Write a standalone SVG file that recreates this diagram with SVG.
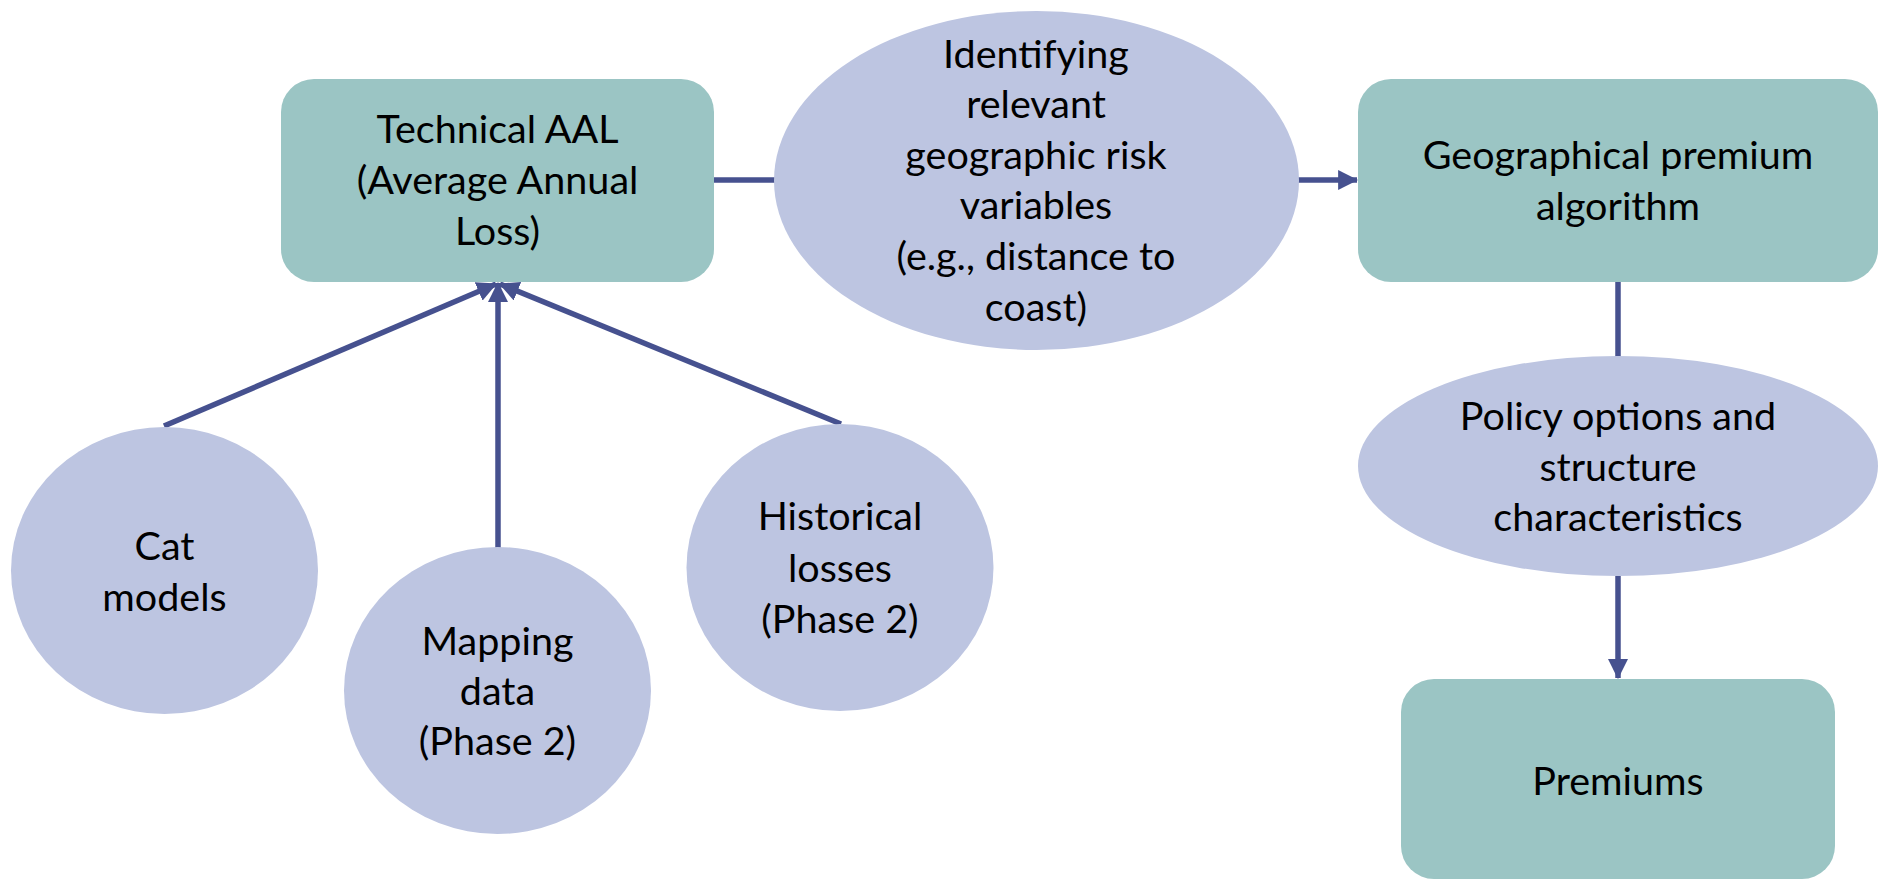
<svg xmlns="http://www.w3.org/2000/svg" width="1885" height="880" viewBox="0 0 1885 880">
  <style>
    .box { fill: #9BC5C4; }
    .ell { fill: #BDC5E1; }
    .lbl { font-family: Lato, "Noto Sans", sans-serif; font-size: 39.5px; fill: #000; text-anchor: middle; }
    .conn { stroke: #46518F; stroke-width: 5.5; fill: none; }
  </style>
  <defs>
    <marker id="arr" markerUnits="userSpaceOnUse" markerWidth="20" markerHeight="20" viewBox="0 0 18 18" refX="17" refY="9" orient="auto">
      <path d="M0,0 L18,9 L0,18 z" fill="#46518F"/>
    </marker>
  </defs>
  <rect width="1885" height="880" fill="#fff"/>

  <g id="connectors">
    <line class="conn" x1="714" y1="180" x2="776" y2="180"/>
    <line class="conn" x1="1298" y1="180" x2="1357" y2="180" marker-end="url(#arr)"/>
    <line class="conn" x1="164" y1="426" x2="496" y2="284" marker-end="url(#arr)"/>
    <line class="conn" x1="498" y1="548" x2="498" y2="283" marker-end="url(#arr)"/>
    <line class="conn" x1="841" y1="424" x2="500" y2="284" marker-end="url(#arr)"/>
    <line class="conn" x1="1618" y1="282" x2="1618" y2="357"/>
    <line class="conn" x1="1618" y1="576" x2="1618" y2="678" marker-end="url(#arr)"/>
  </g>

  <g id="technical-aal">
    <rect class="box" x="281" y="79" width="433" height="203" rx="33"/>
    <text class="lbl"><tspan x="497.5" y="143">Technical AAL</tspan><tspan x="497.5" y="194">(Average Annual</tspan><tspan x="497.5" y="245">Loss)</tspan></text>
  </g>

  <g id="identifying">
    <ellipse class="ell" cx="1036.5" cy="180.5" rx="262.5" ry="169.5"/>
    <text class="lbl"><tspan x="1036" y="68">Identifying</tspan><tspan x="1036" y="118">relevant</tspan><tspan x="1036" y="168.5">geographic risk</tspan><tspan x="1036" y="219">variables</tspan><tspan x="1036" y="270">(e.g., distance to</tspan><tspan x="1036" y="321">coast)</tspan></text>
  </g>

  <g id="geo-premium">
    <rect class="box" x="1358" y="79" width="520" height="203" rx="33"/>
    <text class="lbl"><tspan x="1618" y="169">Geographical premium</tspan><tspan x="1618" y="220">algorithm</tspan></text>
  </g>

  <g id="policy">
    <ellipse class="ell" cx="1618" cy="466" rx="260" ry="110"/>
    <text class="lbl"><tspan x="1618" y="430">Policy options and</tspan><tspan x="1618" y="481">structure</tspan><tspan x="1618" y="531">characteristics</tspan></text>
  </g>

  <g id="premiums">
    <rect class="box" x="1401" y="679" width="434" height="200" rx="33"/>
    <text class="lbl" x="1618" y="795">Premiums</text>
  </g>

  <g id="cat-models">
    <ellipse class="ell" cx="164.5" cy="570.5" rx="153.5" ry="143.5"/>
    <text class="lbl"><tspan x="164.5" y="560">Cat</tspan><tspan x="164.5" y="611">models</tspan></text>
  </g>

  <g id="mapping-data">
    <ellipse class="ell" cx="497.5" cy="690.5" rx="153.5" ry="143.5"/>
    <text class="lbl"><tspan x="497.5" y="655">Mapping</tspan><tspan x="497.5" y="705">data</tspan><tspan x="497.5" y="755">(Phase 2)</tspan></text>
  </g>

  <g id="historical">
    <ellipse class="ell" cx="840" cy="567.5" rx="153.5" ry="143.5"/>
    <text class="lbl"><tspan x="840" y="530">Historical</tspan><tspan x="840" y="582">losses</tspan><tspan x="840" y="633">(Phase 2)</tspan></text>
  </g>
</svg>
